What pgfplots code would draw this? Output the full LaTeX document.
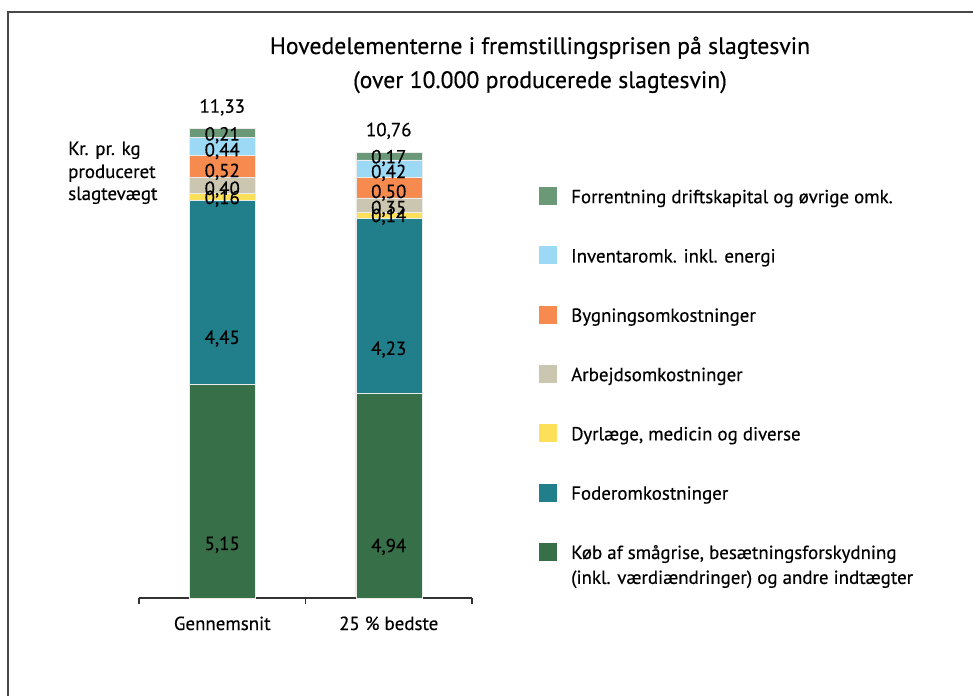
\documentclass[border=0pt]{standalone}
\usepackage{pgfplots}
\pgfplotsset{compat=1.18}
\usepackage{fontspec}
\setmainfont{PT Sans}[FakeBold=0.4]
\definecolor{cKob}{HTML}{377048}
\definecolor{cFoder}{HTML}{217F8B}
\definecolor{cDyr}{HTML}{FDE05A}
\definecolor{cArb}{HTML}{CAC6AF}
\definecolor{cByg}{HTML}{F78B4F}
\definecolor{cInv}{HTML}{9CD9F5}
\definecolor{cFor}{HTML}{6B9877}
\newcommand{\bodyfont}{\fontsize{19}{25}\selectfont}
\begin{document}
\begin{tikzpicture}
\useasboundingbox (0bp,0bp) rectangle (973bp,696bp);
\draw[line width=2.2bp, color=black!72] (8bp,0bp) -- (8bp,684bp) -- (973bp,684bp);
\node[anchor=base, font=\fontsize{23.8}{30}\selectfont] at (540bp,642bp) {Hovedelementerne i fremstillingsprisen på slagtesvin};
\node[anchor=base, font=\fontsize{23.8}{30}\selectfont] at (540bp,608bp) {(over 10.000 producerede slagtesvin)};
\node[anchor=base west, font=\bodyfont, inner sep=0pt] at (68bp,541bp) {Kr. pr. kg};
\node[anchor=base west, font=\bodyfont, inner sep=0pt] at (68bp,518bp) {produceret};
\node[anchor=base west, font=\bodyfont, inner sep=0pt] at (68bp,496bp) {slagtevægt};
\begin{axis}[
  at={(139bp,98bp)}, anchor=south west,
  scale only axis, width=333bp, height=469.3bp,
  xmin=-0.5, xmax=1.5, ymin=0, ymax=11.33,
  ybar stacked, bar width=66bp,
  axis x line=bottom, axis y line=none,
  axis line style={-, line width=1.3bp, color=black!80},
  xtick={0,1}, xticklabels={Gennemsnit, 25 \% bedste},
  major tick length=0pt,
  extra x ticks={-0.5,0.5,1.5}, extra x tick labels={},
  extra x tick style={major tick length=6bp, xtick align=outside, tick style={line width=1.3bp, color=black!80}},
  xticklabel style={anchor=base, yshift=-32bp, font=\bodyfont},
  clip=false,
  point meta=explicit symbolic,
  nodes near coords={\pgfmathprintnumber[fixed, fixed zerofill, precision=2, use comma, assume math mode=true]{\pgfplotspointmeta}},
  every node near coord/.append style={anchor=center, font=\bodyfont, text=black, inner sep=0pt, yshift={-0.25*\pgfplotspointmeta*41.421bp}},
  reverse legend,
  legend style={at={(axis description cs:1.2012,0.8758)}, anchor=north west, draw=none, fill=none, inner sep=0pt,
    row sep={59.3bp,between origins}, column sep=14bp, nodes={inner sep=0pt, font=\bodyfont}, cells={anchor=base west}},
  legend image code/.code={\fill[#1,draw=none] (0bp,-2bp) rectangle (18bp,16bp);},
  every axis plot/.append style={draw=white!85!gray, line width=0.5bp},
]
\addplot[fill=cKob] coordinates {(0,5.15) [5.15] (1,4.94) [4.94]};
\addplot[fill=cFoder] coordinates {(0,4.45) [4.45] (1,4.23) [4.23]};
\addplot[fill=cDyr] coordinates {(0,0.16) [0.16] (1,0.14) [0.14]};
\addplot[fill=cArb] coordinates {(0,0.40) [0.40] (1,0.35) [0.35]};
\addplot[fill=cByg] coordinates {(0,0.52) [0.52] (1,0.50) [0.50]};
\addplot[fill=cInv] coordinates {(0,0.44) [0.44] (1,0.42) [0.42]};
\addplot[fill=cFor] coordinates {(0,0.21) [0.21] (1,0.17) [0.17]};
\legend{{\begin{tabular}[t]{@{}l@{}}Køb af smågrise, besætningsforskydning\\(inkl. værdiændringer) og andre indtægter\end{tabular}},
  Foderomkostninger, {Dyrlæge, medicin og diverse}, Arbejdsomkostninger, Bygningsomkostninger, Inventaromk. inkl. energi, Forrentning driftskapital og øvrige omk.}
\node[anchor=base, font=\bodyfont] at (axis cs:0,11.33) [yshift=16bp] {11,33};
\node[anchor=base, font=\bodyfont] at (axis cs:1,10.75) [yshift=16.5bp] {10,76};
\end{axis}
\end{tikzpicture}
\end{document}
